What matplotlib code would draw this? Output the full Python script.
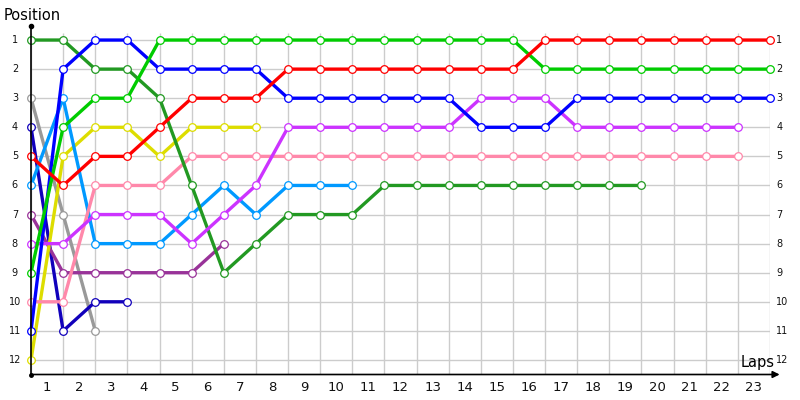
import matplotlib
matplotlib.use('Agg')
import matplotlib.pyplot as plt

# positions per lap, index 0 = start grid
red = [5, 6, 5, 5, 4, 3, 3, 3, 2, 2, 2, 2, 2, 2, 2, 2, 1, 1, 1, 1, 1, 1, 1, 1]
green = [9, 4, 3, 3, 1, 1, 1, 1, 1, 1, 1, 1, 1, 1, 1, 1, 2, 2, 2, 2, 2, 2, 2, 2]
blue = [11, 2, 1, 1, 2, 2, 2, 2, 3, 3, 3, 3, 3, 3, 4, 4, 4, 3, 3, 3, 3, 3, 3, 3]
darkgreen = [1, 1, 2, 2, 3, 6, 9, 8, 7, 7, 7, 6, 6, 6, 6, 6, 6, 6, 6, 6]
magenta = [8, 8, 7, 7, 7, 8, 7, 6, 4, 4, 4, 4, 4, 4, 3, 3, 3, 4, 4, 4, 4, 4, 4]
pink = [10, 10, 6, 6, 6, 5, 5, 5, 5, 5, 5, 5, 5, 5, 5, 5, 5, 5, 5, 5, 5, 5, 5]
lightblue = [6, 3, 8, 8, 8, 7, 6, 7, 6, 6, 6]
yellow = [12, 5, 4, 4, 5, 4, 4, 4]
purple = [7, 9, 9, 9, 9, 9, 8]
navy = [4, 11, 10, 10]
gray = [3, 7, 11]

series = [gray, navy, purple, yellow, lightblue, pink, darkgreen, magenta, blue, green, red]
colors = ['#999999', '#1100BB', '#993399', '#DDDD00', '#0099FF', '#FF88AA',
          '#229922', '#CC33FF', '#0000FF', '#00CC00', '#FF0000']

n_laps = 23
positions = list(range(1, 13))
lap_labels = [str(i) for i in range(1, n_laps + 1)]

fig = plt.figure(figsize=(8, 4), dpi=100)
ax = fig.add_axes([31/800, 1 - 374.5/400, 739/800, 349/400])
ax.set_xlim(0, n_laps)
ax.set_ylim(12.5, 0.5)

# grid
ax.vlines(range(0, n_laps + 1), 0.75, 12.5, color='#cccccc', lw=1, zorder=0)
ax.hlines(positions, 0, n_laps, color='#cccccc', lw=1, zorder=0)

for s, c in zip(series, colors):
    ax.plot(range(len(s)), s, color=c, lw=2.4, marker='o', ms=5.5,
            mfc='white', mec=c, mew=0.9, zorder=3, clip_on=False)

for sp in ax.spines.values():
    sp.set_visible(False)
ax.set_xticks([])
ax.set_yticks([])

# axes lines
ax.plot([0, 0], [0.5, 12.5], color='black', lw=1.2, clip_on=False, zorder=4)
ax.plot([0], [0.5], 'o', color='black', ms=3, clip_on=False, zorder=4)
ax.plot([0], [12.5], 'o', color='black', ms=2.5, clip_on=False, zorder=4)
ax.annotate('', xy=(n_laps + 0.3, 12.5), xytext=(0, 12.5),
            arrowprops=dict(arrowstyle='-|>', color='black', lw=1.2,
                            mutation_scale=10, shrinkA=0, shrinkB=0),
            annotation_clip=False, zorder=4)

for i, lab in enumerate(lap_labels):
    ax.text(i + 0.5, 12.95, lab, ha='center', va='center', fontsize=9.5,
            color='#111111')
for p in positions:
    ax.text(-0.5, p, str(p), ha='center', va='center', fontsize=7,
            color='#111111')
    ax.text(n_laps + 0.2, p, str(p), ha='left', va='center', fontsize=7,
            color='#111111')

fig.text(4/800, 1 - 16/400, 'Position', ha='left', va='center', fontsize=10.5)
ax.text(n_laps + 0.15, 12.1, 'Laps', ha='right', va='center', fontsize=10.5)

fig.savefig('out.png', dpi=100)
